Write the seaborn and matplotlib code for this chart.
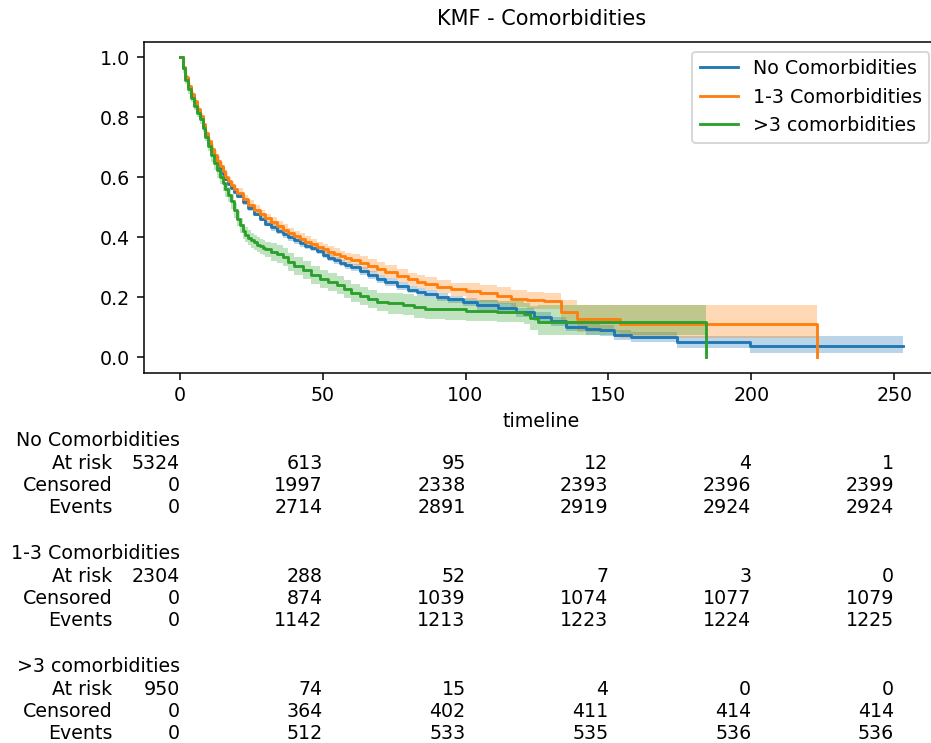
import matplotlib
matplotlib.use("Agg")
import numpy as np
import pandas as pd
import seaborn as sns
from matplotlib import pyplot as plt
from matplotlib import transforms

# survival curves (time, survival, CI lower, CI upper)
no_com_t = [0, 1, 2, 3, 4, 5, 6, 7, 8, 9, 10, 11, 12, 13, 14, 15, 16, 17, 18, 19, 20,
            22, 24, 26, 28, 30, 32, 34, 36, 38, 40, 42, 44, 46, 48, 50, 52, 54, 56, 58, 60,
            63, 66, 69, 72, 76, 80, 83, 86, 90, 94, 99, 104, 111.5, 117.5, 124, 130, 135, 142,
            147, 152, 158, 174, 199.5, 253]
no_com_s = [1.0, .965, .93, .90, .875, .85, .825, .80, .772, .745, .717, .69, .67, .65, .63, .612,
            .595, .578, .564, .551, .538, .516, .497, .479, .462, .445, .433, .421, .41, .40, .39,
            .38, .372, .364, .355, .342, .332, .323, .315, .307, .30, .287, .274, .262, .251, .237,
            .226, .218, .212, .20, .193, .185, .175, .165, .15, .136, .12, .103, .094, .09, .075,
            .068, .05, .039, .039]
no_com_lo = [1.0, .959, .924, .894, .869, .844, .819, .794, .766, .739, .711, .682, .662, .642, .622,
             .604, .587, .570, .556, .543, .530, .508, .489, .471, .454, .437, .422, .410, .399,
             .389, .379, .369, .361, .353, .344, .331, .321, .312, .304, .296, .289, .274, .261,
             .249, .238, .224, .213, .205, .199, .187, .180, .172, .159, .149, .134, .120, .104,
             .087, .076, .072, .057, .050, .030, .014, .014]
no_com_hi = [1.0, .971, .936, .906, .881, .856, .831, .806, .778, .751, .723, .698, .678, .658, .638,
             .620, .603, .586, .572, .559, .546, .524, .505, .487, .470, .453, .444, .432, .421,
             .411, .401, .391, .383, .375, .366, .353, .343, .334, .326, .318, .311, .300, .287,
             .275, .264, .250, .239, .231, .225, .213, .206, .198, .191, .181, .166, .152, .136,
             .119, .112, .108, .093, .086, .070, .070, .070]

com13_t = [0, 1, 2, 3, 4, 5, 6, 7, 8, 9, 10, 11, 12, 13, 14, 15, 16, 17, 18, 19, 20,
           22, 24, 26, 28, 30, 32, 34, 36, 38, 40, 42, 44, 46, 48, 50, 52, 54, 56, 58, 60,
           63, 66, 69, 72, 76, 80, 83, 86, 90, 95, 100, 105, 111, 116, 121.5, 127.5, 133.5, 139, 154, 223]
com13_s = [1.0, .967, .935, .905, .878, .852, .827, .805, .778, .748, .72, .695, .675, .655, .637,
           .619, .602, .587, .574, .561, .549, .528, .509, .492, .477, .463, .45, .437, .425, .414,
           .404, .395, .386, .377, .368, .36, .352, .345, .338, .331, .325, .315, .305, .295, .285,
           .272, .26, .252, .245, .235, .227, .22, .213, .205, .196, .19, .188, .151, .129, .11, 0.0]
com13_lo = [1.0, .957, .925, .895, .868, .842, .817, .795, .768, .738, .71, .681, .661, .641, .623,
            .605, .588, .573, .56, .547, .535, .514, .495, .478, .463, .449, .432, .419, .407, .396,
            .386, .377, .368, .359, .35, .342, .334, .327, .32, .313, .307, .293, .283, .273, .263,
            .25, .238, .23, .223, .213, .205, .192, .185, .177, .168, .162, .16, .111, .086, .065, 0.0]
com13_hi = [1.0, .977, .945, .915, .888, .862, .837, .815, .788, .758, .73, .709, .689, .669, .651,
            .633, .616, .601, .588, .575, .563, .542, .523, .506, .491, .477, .468, .455, .443, .432,
            .422, .413, .404, .395, .386, .378, .37, .363, .356, .349, .343, .337, .327, .317, .307,
            .294, .282, .274, .267, .257, .249, .248, .241, .233, .224, .218, .216, .191, .176, .173, 0.0]

com3_t = [0, 1, 2, 3, 4, 5, 6, 7, 8, 9, 10, 11, 12, 13, 14, 15, 16, 17, 18, 19, 20, 21, 22, 23,
          24, 25, 26, 27, 28, 29, 30, 32, 34, 36, 38, 40, 43, 46, 49, 52, 55, 57.5, 60, 63, 66, 69,
          73, 78, 82, 86, 93, 100, 111, 120.5, 122.5, 125.5, 184]
com3_s = [1.0, .962, .925, .893, .865, .838, .815, .793, .765, .735, .703, .675, .648, .624, .602,
          .58, .56, .542, .52, .49, .462, .44, .42, .408, .398, .39, .383, .376, .37, .365, .36,
          .352, .345, .333, .318, .306, .29, .273, .262, .25, .24, .228, .216, .205, .195, .185,
          .18, .175, .168, .162, .16, .155, .152, .145, .13, .118, 0.0]
com3_lo = [1.0, .947, .91, .878, .85, .823, .80, .778, .75, .72, .688, .65, .623, .599, .577, .555,
           .535, .517, .495, .465, .437, .415, .395, .383, .373, .365, .358, .351, .345, .34, .335,
           .322, .315, .303, .288, .276, .26, .243, .232, .22, .21, .198, .186, .175, .165, .155,
           .145, .14, .133, .127, .125, .12, .117, .11, .09, .075, 0.0]
com3_hi = [1.0, .977, .94, .908, .88, .853, .83, .808, .78, .75, .718, .70, .673, .649, .627, .605,
           .585, .567, .545, .515, .487, .465, .445, .433, .423, .415, .408, .401, .395, .39, .385,
           .382, .375, .363, .348, .336, .32, .303, .292, .28, .27, .258, .246, .235, .225, .215,
           .215, .21, .203, .197, .195, .19, .187, .18, .17, .175, 0.0]

labels = ["No Comorbidities", "1-3 Comorbidities", ">3 comorbidities"]

# at risk table
table_times = [0, 50, 100, 150, 200, 250]
at_risk_no = [5324, 613, 95, 12, 4, 1]
censored_no = [0, 1997, 2338, 2393, 2396, 2399]
events_no = [0, 2714, 2891, 2919, 2924, 2924]
at_risk_13 = [2304, 288, 52, 7, 3, 0]
censored_13 = [0, 874, 1039, 1074, 1077, 1079]
events_13 = [0, 1142, 1213, 1223, 1224, 1225]
at_risk_3 = [950, 74, 15, 4, 0, 0]
censored_3 = [0, 364, 402, 411, 414, 414]
events_3 = [0, 512, 533, 535, 536, 536]

colors = sns.color_palette("tab10")

fig = plt.figure(figsize=(931 / 137, 743 / 137), dpi=137)
# the right edge of the axes runs a little past the picture, as in the reference
ax = fig.add_axes([143.5 / 931, 1 - 372.5 / 743, 795.5 / 931, 330.5 / 743])

curves = [
    (no_com_t, no_com_s, no_com_lo, no_com_hi),
    (com13_t, com13_s, com13_lo, com13_hi),
    (com3_t, com3_s, com3_lo, com3_hi),
]
for i, (t, s, lo, hi) in enumerate(curves):
    sns.lineplot(x=t, y=s, ax=ax, label=labels[i], color=colors[i],
                 estimator=None, sort=False, drawstyle="steps-post", linewidth=1.5)
    ax.fill_between(t, lo, hi, step="post", alpha=0.3, color=colors[i], linewidth=0)

ax.set_title("KMF - Comorbidities", fontsize=11, pad=9)
ax.set_xlabel("timeline")
ax.set_ylabel("")
ax.set_xticks(table_times)
ax.set_xlim(-12.65, 265.65)
ax.set_ylim(-0.05, 1.05)
ax.legend(loc="upper right")

# at risk counts below the axes, one block per group
trans = transforms.blended_transform_factory(ax.transData, fig.transFigure)
top = 1 - 431 / 743
line_h = 22.6 / 743
groups = [
    (at_risk_no, censored_no, events_no),
    (at_risk_13, censored_13, events_13),
    (at_risk_3, censored_3, events_3),
]
for g, (ar, ce, ev) in enumerate(groups):
    y0 = top - g * 5 * line_h
    ax.text(0, y0, labels[g], transform=trans, ha="right", va="top",
            fontsize=10, clip_on=False)
    ax.text(-23.5, y0 - line_h, "At risk\nCensored\nEvents", transform=trans,
            ha="right", va="top", multialignment="right", fontsize=10, clip_on=False)
    for j, tt in enumerate(table_times):
        ax.text(tt, y0 - line_h, f"{ar[j]}\n{ce[j]}\n{ev[j]}", transform=trans,
                ha="right", va="top", multialignment="right", fontsize=10, clip_on=False)

fig.savefig("out.png", dpi=137)
